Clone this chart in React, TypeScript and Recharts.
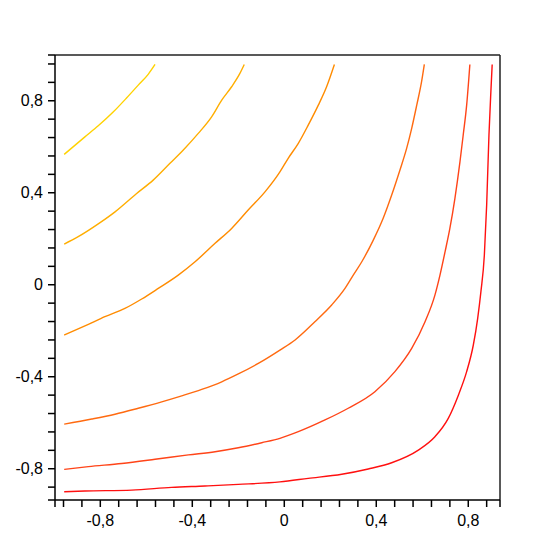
import React from 'react';
import { LineChart, Line, XAxis, YAxis, ReferenceLine } from 'recharts';

// contour levels, lightest (top-left) to darkest (bottom-right)
const LEVEL_1 = [
  { x: -0.957, y: 0.567 }, { x: -0.867, y: 0.643 }, { x: -0.809, y: 0.691 }, { x: -0.743, y: 0.752 },
  { x: -0.685, y: 0.813 }, { x: -0.635, y: 0.868 }, { x: -0.591, y: 0.916 }, { x: -0.562, y: 0.958 },
];
const LEVEL_2 = [
  { x: -0.957, y: 0.177 }, { x: -0.896, y: 0.209 }, { x: -0.801, y: 0.27 }, { x: -0.736, y: 0.317 },
  { x: -0.642, y: 0.397 }, { x: -0.57, y: 0.455 }, { x: -0.497, y: 0.528 }, { x: -0.439, y: 0.586 },
  { x: -0.374, y: 0.658 }, { x: -0.316, y: 0.73 }, { x: -0.272, y: 0.803 }, { x: -0.229, y: 0.861 },
  { x: -0.193, y: 0.919 }, { x: -0.174, y: 0.958 },
];
const LEVEL_3 = [
  { x: -0.957, y: -0.219 }, { x: -0.852, y: -0.172 }, { x: -0.78, y: -0.139 }, { x: -0.693, y: -0.103 },
  { x: -0.62, y: -0.062 }, { x: -0.548, y: -0.016 }, { x: -0.461, y: 0.042 }, { x: -0.388, y: 0.1 },
  { x: -0.301, y: 0.18 }, { x: -0.229, y: 0.245 }, { x: -0.157, y: 0.325 }, { x: -0.084, y: 0.404 },
  { x: -0.019, y: 0.491 }, { x: 0.017, y: 0.55 }, { x: 0.061, y: 0.615 }, { x: 0.104, y: 0.694 },
  { x: 0.148, y: 0.781 }, { x: 0.184, y: 0.861 }, { x: 0.218, y: 0.958 },
];
const LEVEL_4 = [
  { x: -0.957, y: -0.606 }, { x: -0.837, y: -0.584 }, { x: -0.736, y: -0.563 }, { x: -0.635, y: -0.537 },
  { x: -0.533, y: -0.509 }, { x: -0.446, y: -0.483 }, { x: -0.359, y: -0.455 }, { x: -0.272, y: -0.422 },
  { x: -0.2, y: -0.388 }, { x: -0.113, y: -0.342 }, { x: -0.019, y: -0.284 }, { x: 0.047, y: -0.24 },
  { x: 0.133, y: -0.161 }, { x: 0.206, y: -0.088 }, { x: 0.264, y: -0.016 }, { x: 0.3, y: 0.042 },
  { x: 0.337, y: 0.1 }, { x: 0.387, y: 0.194 }, { x: 0.43, y: 0.289 }, { x: 0.467, y: 0.39 },
  { x: 0.503, y: 0.499 }, { x: 0.532, y: 0.593 }, { x: 0.554, y: 0.68 }, { x: 0.576, y: 0.781 },
  { x: 0.597, y: 0.883 }, { x: 0.609, y: 0.958 },
];
const LEVEL_5 = [
  { x: -0.957, y: -0.803 }, { x: -0.852, y: -0.791 }, { x: -0.707, y: -0.777 }, { x: -0.562, y: -0.759 },
  { x: -0.417, y: -0.74 }, { x: -0.301, y: -0.726 }, { x: -0.2, y: -0.709 }, { x: -0.098, y: -0.687 },
  { x: -0.019, y: -0.668 }, { x: 0.061, y: -0.639 }, { x: 0.177, y: -0.588 }, { x: 0.278, y: -0.537 },
  { x: 0.394, y: -0.465 }, { x: 0.481, y: -0.378 }, { x: 0.554, y: -0.277 }, { x: 0.612, y: -0.161 },
  { x: 0.655, y: -0.045 }, { x: 0.677, y: 0.042 }, { x: 0.699, y: 0.143 }, { x: 0.72, y: 0.245 },
  { x: 0.742, y: 0.376 }, { x: 0.764, y: 0.535 }, { x: 0.778, y: 0.651 }, { x: 0.793, y: 0.781 },
  { x: 0.807, y: 0.958 },
];
const LEVEL_6 = [
  { x: -0.957, y: -0.9 }, { x: -0.867, y: -0.897 }, { x: -0.663, y: -0.893 }, { x: -0.49, y: -0.881 },
  { x: -0.345, y: -0.875 }, { x: -0.2, y: -0.868 }, { x: -0.019, y: -0.857 }, { x: 0.104, y: -0.842 },
  { x: 0.25, y: -0.824 }, { x: 0.365, y: -0.801 }, { x: 0.467, y: -0.774 }, { x: 0.583, y: -0.719 },
  { x: 0.655, y: -0.661 }, { x: 0.713, y: -0.581 }, { x: 0.757, y: -0.48 }, { x: 0.793, y: -0.378 },
  { x: 0.822, y: -0.262 }, { x: 0.841, y: -0.146 }, { x: 0.855, y: -0.03 }, { x: 0.87, y: 0.129 },
  { x: 0.88, y: 0.347 }, { x: 0.89, y: 0.651 }, { x: 0.899, y: 0.854 }, { x: 0.904, y: 0.958 },
];

const LEVELS = [LEVEL_1, LEVEL_2, LEVEL_3, LEVEL_4, LEVEL_5, LEVEL_6];
const LEVEL_COLORS = ['#ffd200', '#ffae00', '#ff8c00', '#ff6a10', '#ff4418', '#ff1010'];

const X_MIN = -0.997;
const X_MAX = 0.938;
const Y_MIN = -0.936;
const Y_MAX = 0.999;

const X_TICKS = [X_MIN, -0.96, -0.88, -0.8, -0.72, -0.64, -0.56, -0.48, -0.4, -0.32, -0.24, -0.16, -0.08, 0,
  0.08, 0.16, 0.24, 0.32, 0.4, 0.48, 0.56, 0.64, 0.72, 0.8, 0.88, X_MAX];
const Y_TICKS = [Y_MIN, -0.88, -0.8, -0.72, -0.64, -0.56, -0.48, -0.4, -0.32, -0.24, -0.16, -0.08, 0,
  0.08, 0.16, 0.24, 0.32, 0.4, 0.48, 0.56, 0.64, 0.72, 0.8, 0.88, 0.96, Y_MAX];
const LABELED = [-0.8, -0.4, 0, 0.4, 0.8];

const fmt = (v: number) => (LABELED.includes(v) ? String(v).replace('.', ',') : '');

const tickFont = { fontFamily: '"Liberation Sans", Arial, sans-serif', fontSize: 16, fill: '#000' };

export default function App() {
  return (
    <LineChart width={540} height={540} margin={{ top: 47, right: 48, bottom: 18, left: 0 }}>
      <XAxis
        type="number"
        dataKey="x"
        domain={[X_MIN, X_MAX]}
        ticks={X_TICKS}
        interval={0}
        tickFormatter={fmt}
        tickSize={7}
        tickMargin={8}
        height={30}
        allowDataOverflow
        axisLine={{ stroke: '#000', strokeWidth: 1.5 }}
        tickLine={{ stroke: '#000', strokeWidth: 1.5 }}
        tick={tickFont}
      />
      <YAxis
        type="number"
        dataKey="y"
        domain={[Y_MIN, Y_MAX]}
        ticks={Y_TICKS}
        interval={0}
        tickFormatter={fmt}
        tickSize={7}
        tickMargin={5}
        width={47}
        allowDataOverflow
        axisLine={{ stroke: '#000', strokeWidth: 1.5 }}
        tickLine={{ stroke: '#000', strokeWidth: 1.5 }}
        tick={tickFont}
      />
      <ReferenceLine y={Y_MAX} stroke="#222" strokeWidth={1.5} />
      <ReferenceLine x={X_MAX} stroke="#222" strokeWidth={1.5} />
      {LEVELS.map((lvl, i) => (
        <Line
          key={i}
          data={lvl}
          dataKey="y"
          type="monotone"
          stroke={LEVEL_COLORS[i]}
          strokeWidth={1.4}
          dot={false}
          activeDot={false}
          isAnimationActive={false}
        />
      ))}
    </LineChart>
  );
}
